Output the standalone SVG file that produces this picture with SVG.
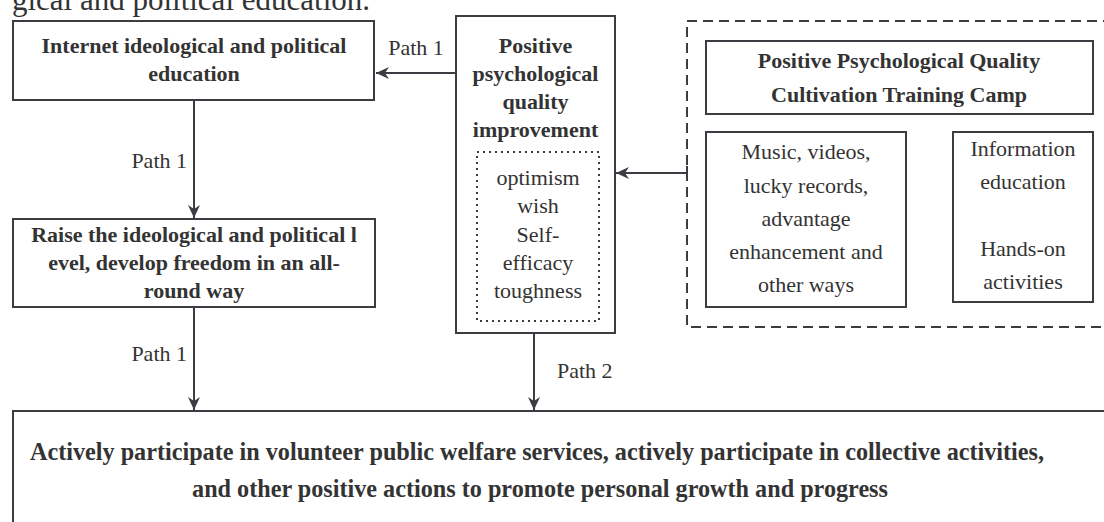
<svg xmlns="http://www.w3.org/2000/svg" width="1104" height="522" viewBox="0 0 1104 522">
<style>
text{font-family:"Liberation Serif","Times New Roman",serif;fill:#333;font-size:22px}
.b{font-weight:bold}
.c{text-anchor:middle}
.big{font-size:24.2px}
.box{fill:#fff;stroke:#3a3d42;stroke-width:2}
.dot{fill:none;stroke:#3a3d42;stroke-width:2;stroke-dasharray:2 4}
.dash{fill:none;stroke:#3a3d42;stroke-width:2;stroke-dasharray:10 6}
.ln{fill:none;stroke:#3a3d42;stroke-width:2}
</style>
<defs>
<marker id="ah" markerUnits="userSpaceOnUse" markerWidth="14" markerHeight="12" refX="13" refY="6" orient="auto">
<path d="M0,0 L13,6 L0,12 L4,6 Z" fill="#3a3d42"/>
</marker>
</defs>
<rect width="1104" height="522" fill="#fff"/>
<text x="370" y="10" style="font-size:31px;text-anchor:end">gical and political education.</text>

<g id="n-internet">
<rect class="box" x="13" y="21" width="361" height="79"/>
<text class="b c" x="194" y="53">Internet ideological and political</text>
<text class="b c" x="194" y="81">education</text>
</g>

<g id="n-raise">
<rect class="box" x="13" y="219" width="362" height="88"/>
<text class="b c" x="194" y="242">Raise the ideological and political l</text>
<text class="b c" x="194" y="270">evel, develop freedom in an all-</text>
<text class="b c" x="194" y="298">round way</text>
</g>

<g id="n-positive">
<rect class="box" x="456" y="16" width="159" height="317"/>
<text class="b c" x="535.5" y="53">Positive</text>
<text class="b c" x="535.5" y="81">psychological</text>
<text class="b c" x="535.5" y="109">quality</text>
<text class="b c" x="535.5" y="137">improvement</text>
<rect class="dot" x="477" y="152" width="122" height="169"/>
<text class="c" x="538" y="185">optimism</text>
<text class="c" x="538" y="213">wish</text>
<text class="c" x="538" y="242">Self-</text>
<text class="c" x="538" y="270">efficacy</text>
<text class="c" x="538" y="298">toughness</text>
</g>

<g id="n-camp">
<rect class="dash" x="687" y="21" width="430" height="306"/>
<rect class="box" x="706" y="41" width="387" height="73"/>
<text class="b c" x="899" y="68">Positive Psychological Quality</text>
<text class="b c" x="899" y="102">Cultivation Training Camp</text>
<rect class="box" x="706" y="132" width="200" height="175"/>
<text class="c" x="806" y="159">Music, videos,</text>
<text class="c" x="806" y="193">lucky records,</text>
<text class="c" x="806" y="226">advantage</text>
<text class="c" x="806" y="259">enhancement and</text>
<text class="c" x="806" y="292">other ways</text>
<rect class="box" x="953" y="132" width="140" height="170"/>
<text class="c" x="1023" y="156">Information</text>
<text class="c" x="1023" y="189">education</text>
<text class="c" x="1023" y="256">Hands-on</text>
<text class="c" x="1023" y="289">activities</text>
</g>

<g id="n-actions">
<rect class="box" x="13" y="411" width="1110" height="130"/>
<text class="b c big" x="537" y="460">Actively participate in volunteer public welfare services, actively participate in collective activities,</text>
<text class="b c big" x="540" y="497">and other positive actions to promote personal growth and progress</text>
</g>

<g id="connectors">
<line class="ln" x1="456" y1="73" x2="376" y2="73" marker-end="url(#ah)"/>
<text class="c" x="416" y="55">Path 1</text>
<line class="ln" x1="194" y1="100" x2="194" y2="218" marker-end="url(#ah)"/>
<text x="187" y="168" style="text-anchor:end">Path 1</text>
<line class="ln" x1="194" y1="307" x2="194" y2="410" marker-end="url(#ah)"/>
<text x="187" y="361" style="text-anchor:end">Path 1</text>
<line class="ln" x1="534" y1="333" x2="534" y2="410" marker-end="url(#ah)"/>
<text x="557" y="378">Path 2</text>
<line class="ln" x1="687" y1="173" x2="616" y2="173" marker-end="url(#ah)"/>
<line class="ln" x1="687" y1="166" x2="687" y2="180"/>
</g>
</svg>
